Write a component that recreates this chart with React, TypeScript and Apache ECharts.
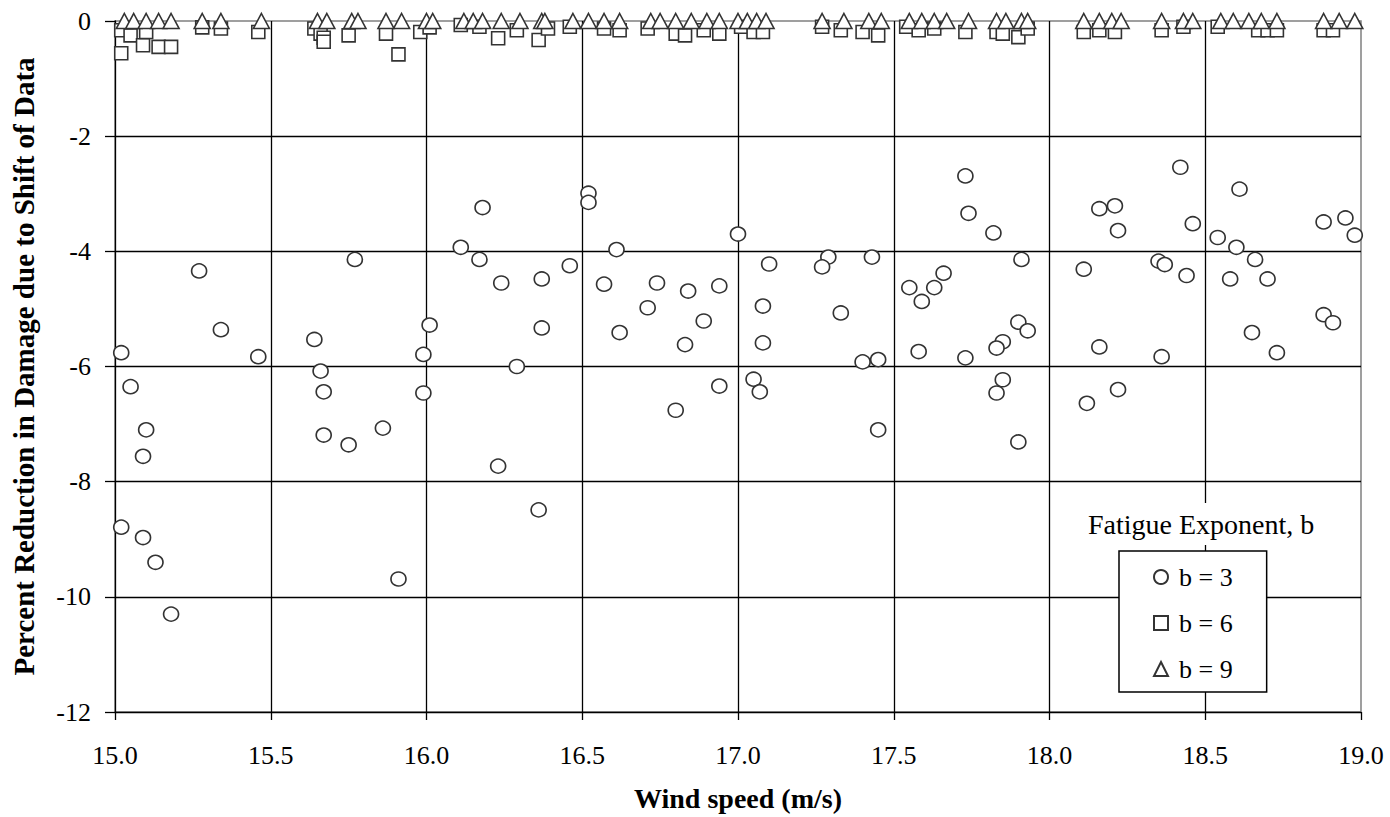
import React, { useEffect, useRef } from "react";
import * as echarts from "echarts";

const xTicks = { min: 15, max: 19, step: 0.5 };
const yTicks = { min: -12, max: 0, step: 2 };

const xTitle = "Wind speed (m/s)";
const yTitle = "Percent Reduction in Damage due to Shift of Data";
const legendTitle = "Fatigue Exponent, b";
const seriesNames = ["b = 3", "b = 6", "b = 9"];

// b = 3 (circles): [wind speed, % reduction]
const b3Points: number[][] = [
  [15.02, -5.76], [15.05, -6.35], [15.10, -7.10], [15.09, -7.56], [15.02, -8.79],
  [15.09, -8.97], [15.13, -9.40], [15.18, -10.30], [15.27, -4.34], [15.34, -5.36],
  [15.46, -5.83], [15.64, -5.53], [15.66, -6.08], [15.67, -6.44], [15.67, -7.19],
  [15.75, -7.36], [15.77, -4.14], [15.86, -7.07], [15.91, -9.69], [16.01, -5.28],
  [15.99, -5.79], [15.99, -6.46], [16.18, -3.24], [16.52, -2.99], [16.52, -3.15],
  [17.00, -3.70], [16.11, -3.93], [16.17, -4.14], [16.24, -4.55], [16.37, -4.48],
  [16.46, -4.25], [16.61, -3.97], [16.57, -4.57], [16.74, -4.55], [16.84, -4.69],
  [16.94, -4.60], [17.10, -4.22], [16.71, -4.98], [16.89, -5.21], [17.08, -4.95],
  [16.37, -5.33], [16.62, -5.41], [16.83, -5.62], [17.08, -5.59], [16.29, -6.00],
  [16.94, -6.34], [17.05, -6.22], [17.07, -6.44], [16.80, -6.76], [16.23, -7.73],
  [16.36, -8.49], [17.29, -4.10], [17.27, -4.27], [17.43, -4.10], [17.33, -5.07],
  [17.40, -5.92], [17.45, -5.88], [17.45, -7.10], [17.73, -2.69], [17.74, -3.34],
  [17.82, -3.68], [17.91, -4.14], [17.66, -4.38], [17.55, -4.63], [17.63, -4.63],
  [17.59, -4.87], [17.90, -5.23], [17.93, -5.38], [17.85, -5.57], [17.83, -5.68],
  [17.58, -5.74], [17.73, -5.85], [17.85, -6.23], [17.83, -6.46], [17.90, -7.31],
  [18.11, -4.31], [18.16, -3.26], [18.16, -5.66], [18.12, -6.64], [18.42, -2.54],
  [18.61, -2.92], [18.21, -3.21], [18.22, -3.64], [18.46, -3.52], [18.54, -3.76],
  [18.60, -3.93], [18.88, -3.49], [18.95, -3.42], [18.98, -3.72], [18.35, -4.17],
  [18.37, -4.23], [18.44, -4.42], [18.66, -4.14], [18.58, -4.48], [18.70, -4.48],
  [18.88, -5.10], [18.91, -5.24], [18.65, -5.41], [18.73, -5.76], [18.36, -5.83],
  [18.22, -6.40],
];

// b = 6 (squares)
const b6Points: number[][] = [
  [15.02, -0.56], [15.02, -0.16], [15.05, -0.25], [15.09, -0.42], [15.10, -0.19],
  [15.14, -0.45], [15.18, -0.45], [15.28, -0.11], [15.34, -0.13], [15.46, -0.19],
  [15.64, -0.13], [15.66, -0.22], [15.67, -0.29], [15.67, -0.36], [15.75, -0.25],
  [15.87, -0.22], [15.91, -0.58], [15.98, -0.19], [16.01, -0.11], [16.11, -0.07],
  [16.17, -0.10], [16.23, -0.30], [16.29, -0.16], [16.36, -0.33], [16.39, -0.13],
  [16.46, -0.10], [16.57, -0.13], [16.62, -0.16], [16.71, -0.13], [16.80, -0.22],
  [16.83, -0.25], [16.89, -0.16], [16.94, -0.22], [17.01, -0.10], [17.05, -0.19],
  [17.08, -0.19], [17.27, -0.10], [17.33, -0.16], [17.40, -0.19], [17.45, -0.25],
  [17.54, -0.10], [17.58, -0.16], [17.63, -0.13], [17.73, -0.19], [17.83, -0.19],
  [17.85, -0.22], [17.90, -0.28], [17.93, -0.13], [18.11, -0.19], [18.16, -0.16],
  [18.21, -0.19], [18.36, -0.16], [18.43, -0.10], [18.54, -0.10], [18.67, -0.16],
  [18.70, -0.16], [18.73, -0.16], [18.88, -0.16], [18.91, -0.16],
];

// b = 9 (triangles)
const b9Points: number[][] = [
  [15.03, 0], [15.06, 0], [15.10, 0], [15.14, 0], [15.18, 0], [15.28, 0], [15.34, 0],
  [15.47, 0], [15.65, 0], [15.68, 0], [15.76, 0], [15.78, 0], [15.87, 0], [15.92, 0],
  [16.00, 0], [16.02, 0], [16.12, 0], [16.15, 0], [16.18, 0], [16.24, 0], [16.30, 0],
  [16.37, 0], [16.38, 0], [16.47, 0], [16.52, 0], [16.57, 0], [16.62, 0], [16.72, 0],
  [16.75, 0], [16.80, 0], [16.85, 0], [16.90, 0], [16.94, 0], [17.00, 0], [17.03, 0],
  [17.06, 0], [17.09, 0], [17.27, 0], [17.34, 0], [17.42, 0], [17.46, 0], [17.55, 0],
  [17.59, 0], [17.63, 0], [17.67, 0], [17.74, 0], [17.83, 0], [17.86, 0], [17.91, 0],
  [17.93, 0], [18.11, 0], [18.16, 0], [18.20, 0], [18.23, 0], [18.36, 0], [18.43, 0],
  [18.46, 0], [18.55, 0], [18.59, 0], [18.64, 0], [18.68, 0], [18.73, 0], [18.88, 0],
  [18.93, 0], [18.98, 0],
];

const FONT = "Liberation Serif";
const MARK = { color: "#fff", borderColor: "#333", borderWidth: 1.6, opacity: 1 };

export default function App() {
  const ref = useRef<HTMLDivElement>(null);
  useEffect(() => {
    if (!ref.current) return;
    const chart = echarts.init(ref.current, undefined, { renderer: "svg" });
    chart.setOption({
      animation: false,
      backgroundColor: "#fff",
      textStyle: { fontFamily: FONT },
      title: {
        text: legendTitle,
        left: 1083,
        top: 503,
        padding: [7, 5, 7, 5],
        backgroundColor: "#fff",
        textStyle: { fontFamily: FONT, fontSize: 28, fontWeight: "normal", color: "#000" },
      },
      legend: {
        data: seriesNames,
        orient: "vertical",
        left: 1119,
        top: 551,
        padding: [13, 34, 10, 34],
        itemGap: 20,
        itemWidth: 14,
        itemHeight: 14,
        backgroundColor: "#fff",
        borderColor: "#000",
        borderWidth: 1.5,
        borderRadius: 0,
        selectedMode: false,
        textStyle: { fontFamily: FONT, fontSize: 26, color: "#000", padding: [0, 0, 0, 6] },
      },
      grid: {
        left: 115,
        right: 29,
        top: 21,
        bottom: 100,
        show: true,
        borderColor: "#808080",
        borderWidth: 1.5,
        backgroundColor: "transparent",
      },
      xAxis: {
        type: "value",
        min: xTicks.min,
        max: xTicks.max,
        interval: xTicks.step,
        name: xTitle,
        nameLocation: "middle",
        nameGap: 72,
        nameTextStyle: { fontFamily: FONT, fontSize: 28, fontWeight: "bold", color: "#000" },
        axisLine: { show: true, onZero: false, lineStyle: { color: "#000", width: 1.3 } },
        axisTick: { show: true, inside: false, length: 8, lineStyle: { color: "#000", width: 1.3 } },
        axisLabel: {
          margin: 30,
          fontFamily: FONT,
          fontSize: 26,
          color: "#000",
          formatter: (v: number) => v.toFixed(1),
        },
        splitLine: { show: true, showMinLine: false, showMaxLine: false, lineStyle: { color: "#000", width: 1.3 } },
      },
      yAxis: {
        type: "value",
        min: yTicks.min,
        max: yTicks.max,
        interval: yTicks.step,
        name: yTitle,
        nameLocation: "middle",
        nameGap: 77,
        nameTextStyle: { fontFamily: FONT, fontSize: 29, fontWeight: "bold", color: "#000" },
        axisLine: { show: true, onZero: false, lineStyle: { color: "#000", width: 1.3 } },
        axisTick: { show: true, inside: false, length: 10, lineStyle: { color: "#000", width: 1.3 } },
        axisLabel: { margin: 24, fontFamily: FONT, fontSize: 26, color: "#000" },
        splitLine: { show: true, showMinLine: false, showMaxLine: false, lineStyle: { color: "#000", width: 1.3 } },
      },
      series: [
        {
          name: seriesNames[0],
          type: "scatter",
          data: b3Points,
          symbol: "circle",
          symbolSize: [15, 14],
          itemStyle: MARK,
          clip: false,
          z: 2,
        },
        {
          name: seriesNames[1],
          type: "scatter",
          data: b6Points,
          symbol: "rect",
          symbolSize: 13,
          itemStyle: MARK,
          clip: false,
          z: 3,
        },
        {
          name: seriesNames[2],
          type: "scatter",
          data: b9Points,
          symbol: "triangle",
          symbolSize: [16, 15],
          itemStyle: MARK,
          clip: false,
          z: 4,
        },
      ],
    });
    return () => chart.dispose();
  }, []);
  return (
    <div
      ref={ref}
      style={{ position: "fixed", left: 0, top: 0, width: 1390, height: 817, background: "#fff" }}
    />
  );
}
